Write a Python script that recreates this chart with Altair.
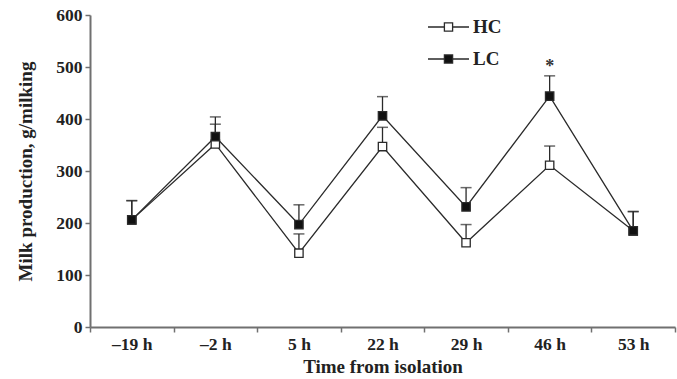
import altair as alt
import pandas as pd

times = ["–19 h", "–2 h", "5 h", "22 h", "29 h", "46 h", "53 h"]
hc_mean = [206, 352, 142, 347, 162, 311, 185]
hc_se = [37, 38, 37, 37, 35, 37, 37]
lc_mean = [206, 366, 197, 406, 231, 444, 185]
lc_se = [37, 38, 38, 37, 37, 39, 37]
groups = ["HC", "LC"]
star_time = ["46 h"]
star_y = [500]

rows = []
for g, means, ses in [("HC", hc_mean, hc_se), ("LC", lc_mean, lc_se)]:
    for t, m, s in zip(times, means, ses):
        rows.append({"time": t, "group": g, "mean": m, "top": m + s})
df = pd.DataFrame(rows)
star_df = pd.DataFrame({"time": star_time, "y": star_y, "label": ["*"]})

FONT = "Liberation Serif"
DARK = "#2a2a2a"

x = alt.X("time:N", sort=times, scale=alt.Scale(type="band", paddingInner=0, paddingOuter=0),
          axis=alt.Axis(title="Time from isolation", tickBand="extent", labelAngle=0))
yscale = alt.Scale(domain=[0, 600], nice=False)
yax = alt.Axis(title="Milk production, g/milking", values=[0, 100, 200, 300, 400, 500, 600], grid=False)

base = alt.Chart(df)

err = base.mark_rule(color=DARK, strokeWidth=1.3).encode(
    x=x, y=alt.Y("mean:Q", scale=yscale, axis=yax), y2="top:Q", detail="group:N"
)
cap = base.mark_tick(color=DARK, thickness=1.5, size=11, orient="horizontal").encode(
    x=x, y=alt.Y("top:Q", scale=yscale), detail="group:N"
)
line = base.mark_line(color=DARK, strokeWidth=1.3).encode(
    x=x, y=alt.Y("mean:Q", scale=yscale), detail="group:N"
)
pts = base.mark_point(shape="square", size=70, filled=False, stroke=DARK, strokeWidth=1.3, opacity=1).encode(
    x=x, y=alt.Y("mean:Q", scale=yscale),
    fill=alt.Fill("group:N", sort=groups, scale=alt.Scale(domain=groups, range=["white", "#111111"]),
                  legend=alt.Legend(title=None, orient="none", legendX=337, legendY=-9.5,
                                    symbolType="M-1,0H-0.2M0.2,0H1M-0.2,-0.2H0.2V0.2H-0.2Z",
                                    symbolSize=1681, symbolStrokeColor=DARK, symbolStrokeWidth=1.3,
                                    labelFont=FONT, labelFontSize=19, labelFontWeight="bold",
                                    labelColor="#222222", labelOffset=3, rowPadding=-5, padding=0)),
    order=alt.Order("group:N", sort="ascending"),
)
star = alt.Chart(star_df).mark_text(font=FONT, fontSize=18, fontWeight="bold", color="#333333", baseline="middle").encode(
    x=alt.X("time:N", sort=times, scale=alt.Scale(type="band", paddingInner=0, paddingOuter=0)),
    y=alt.Y("y:Q", scale=yscale), text="label:N"
)

chart = alt.layer(err, cap, line, pts, star).properties(
    width=585, height=312,
    autosize=alt.AutoSizeParams(type="none"),
    padding={"left": 90, "top": 15, "right": 2, "bottom": 52},
).configure_view(stroke=None).configure_axis(
    domainColor="#707070", domainWidth=2, tickColor="#707070", tickWidth=1.5, tickSize=5,
    labelFont=FONT, labelFontSize=17.5, labelFontWeight="bold", labelColor="#222222",
    titleFont=FONT, titleFontSize=19, titleFontWeight="bold", titleColor="#222222",
    labelPadding=3,
).configure_axisY(titlePadding=20).configure_axisX(titlePadding=5)

chart.save("out.html", embed_options={"renderer": "svg", "actions": False})
